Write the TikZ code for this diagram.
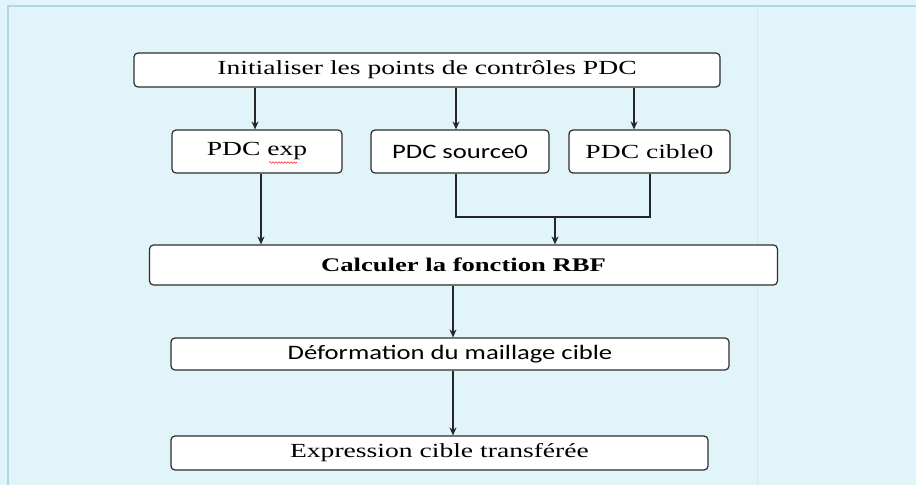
\documentclass[tikz,border=0pt]{standalone}
\usepackage{fontspec}
\setmainfont[FakeStretch=1.38]{Liberation Serif}
\newfontfamily\sansf[FakeStretch=1.3]{Carlito}
\usetikzlibrary{arrows.meta,calc,decorations.pathmorphing}
\definecolor{bgcyan}{RGB}{224,244,249}
\definecolor{framecyan}{RGB}{175,215,228}
\definecolor{boxline}{RGB}{45,45,45}
\tikzset{
  box/.style={draw=boxline, line width=1.2pt, fill=white, rounded corners=4pt,
    inner sep=0pt, align=center, font=\fontsize{20}{24}\selectfont},
  sbox/.style={box, font=\sansf\fontsize{20.5}{24}\selectfont},
  arr/.style={draw=black!85, line width=1.2pt, -{Stealth[length=8pt,width=7pt]}},
  ln/.style={draw=black!85, line width=1.2pt}
}
\begin{document}
\begin{tikzpicture}[x=1pt,y=-1pt]
\useasboundingbox (0,0) rectangle (916,485);
\fill[bgcyan] (0,0) rectangle (916,485);
\draw[framecyan, line width=1.5pt] (8,485) -- (8,6) -- (916,6);
\draw[framecyan!35!bgcyan, line width=0.8pt] (757,6) -- (757,485);

\node[box, minimum width=586pt, minimum height=34pt] (top) at (427,70) {Initialiser les points de contrôles PDC};
\node[box, minimum width=170pt, minimum height=43pt] (pexp) at (257,151.5) {PDC exp};
\node[sbox, minimum width=178pt, minimum height=43pt] (psrc) at (460,151.5) {PDC source0};
\node[box, minimum width=161pt, minimum height=43pt] (pcib) at (649.5,151.5) {PDC cible0};
\node[box, minimum width=628pt, minimum height=40pt, font=\bfseries\fontsize{19.3}{23}\selectfont] (calc) at (463.5,265) {Calculer la fonction RBF};
\node[sbox, minimum width=558pt, minimum height=32pt] (defo) at (450,354) {Déformation du maillage cible};
\node[box, minimum width=537pt, minimum height=34pt] (expr) at (439.5,453) {Expression cible transférée};

% squiggly underline under "exp"
\draw[red!80, line width=0.6pt, decorate, decoration={snake, amplitude=0.8pt, segment length=3pt}] ($(pexp.center)+(12,11)$) -- ($(pexp.center)+(40,11)$);

\draw[arr] ([xshift=-2pt]pexp.north |- top.south) -- ([xshift=-2pt]pexp.north);
\draw[arr] ([xshift=-4pt]psrc.north |- top.south) -- ([xshift=-4pt]psrc.north);
\draw[arr] ([xshift=-15.5pt]pcib.north |- top.south) -- ([xshift=-15.5pt]pcib.north);

\draw[arr] ([xshift=4pt]pexp.south) -- ([xshift=4pt]pexp.south |- calc.north);
\coordinate (m1) at ([xshift=-4pt]psrc.south);
\coordinate (m2) at ([xshift=0.5pt]pcib.south);
\coordinate (jn) at (555,217);
\draw[ln] (m1) -- (m1 |- jn) -- (m2 |- jn) -- (m2);
\draw[arr] (jn) -- (jn |- calc.north);

\draw[arr] ([xshift=-10.5pt]calc.south) -- ([xshift=-10.5pt]calc.south |- defo.north);
\draw[arr] ([xshift=3pt]defo.south) -- ([xshift=3pt]defo.south |- expr.north);
\end{tikzpicture}
\end{document}
